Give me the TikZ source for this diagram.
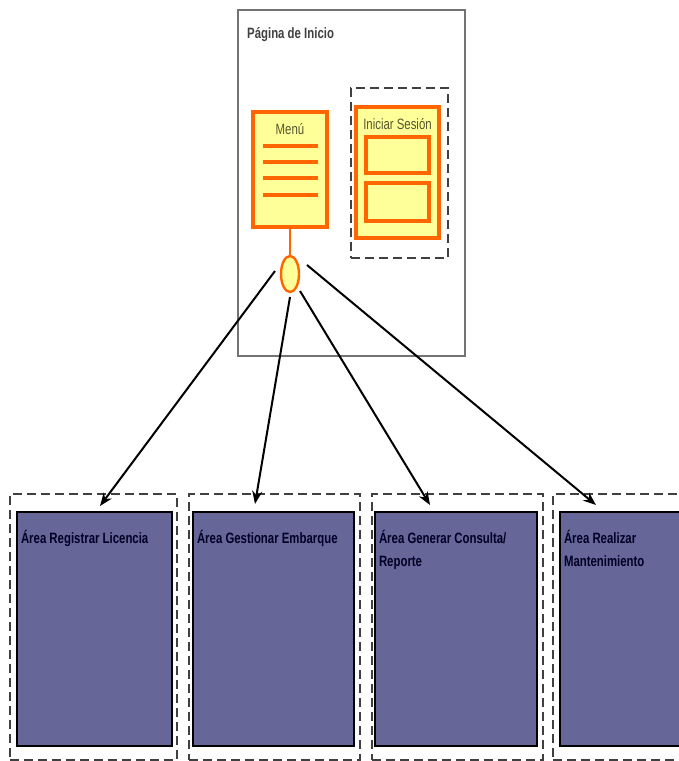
\documentclass[tikz,border=0pt]{standalone}
\usepackage{fontspec}
\setmainfont{Liberation Sans}[FakeStretch=0.76]
\usepackage{tikz}
\usetikzlibrary{shapes.geometric, arrows.meta, calc}

\definecolor{menuorange}{RGB}{255,102,0}
\definecolor{paleyellow}{RGB}{255,255,153}
\definecolor{areablue}{RGB}{102,102,153}
\definecolor{labelolive}{RGB}{85,85,45}

\begin{document}
\begin{tikzpicture}[x=1pt, y=-1pt, font=\fontsize{15}{23}\selectfont,
  pagebox/.style={draw=black!55, line width=1.5pt, inner sep=0pt},
  orangebox/.style={draw=menuorange, fill=paleyellow, line width=3.5pt, inner sep=0pt},
  wrapbox/.style={draw=black!75, line width=2.4pt, dash pattern=on 9pt off 5pt, inner sep=0pt},
  areabox/.style={draw=black, fill=areablue, line width=2.4pt, inner sep=0pt},
  arealabel/.style={anchor=north west, align=left, inner sep=0pt, font=\fontsize{15}{23}\selectfont\bfseries, text=black!85!blue},
  link/.style={-{Stealth[length=13pt, width=10pt]}, line width=2pt}]
  \useasboundingbox (0,0) rectangle (679,761);
  \clip (0,0) rectangle (679,761);

  \node[pagebox, minimum width=227pt, minimum height=346pt] (page) at (351.5,183) {};
  \node[anchor=north west, inner sep=0pt, font=\fontsize{15}{18}\selectfont\bfseries, text=black!75] (title) at (247,27) {Página de Inicio};

  \node[orangebox, minimum width=74pt, minimum height=115pt] (menu) at (290,169.5) {};
  \node[text=labelolive, inner sep=0pt] (menulabel) at (290,129) {Menú};
  \foreach \y in {146,162,178,195}
    \draw[menuorange, line width=3.5pt] (263,\y) -- (318,\y);
  \node[ellipse, draw=menuorange, fill=paleyellow, line width=2.4pt, minimum width=18pt, minimum height=36pt, inner sep=0pt] (hub) at (290,274) {};
  \draw[menuorange, line width=2.4pt] (menu.south) -- (hub.north);

  \node[wrapbox, minimum width=97pt, minimum height=170pt] (loginwrap) at (399.5,173) {};
  \node[orangebox, line width=4pt, minimum width=83pt, minimum height=131pt] (login) at (397.5,172.5) {};
  \node[text=labelolive, inner sep=0pt] (loginlabel) at (397.5,124) {Iniciar Sesión};
  \node[orangebox, line width=4pt, minimum width=63pt, minimum height=36pt] (field1) at (397.5,155) {};
  \node[orangebox, line width=4pt, minimum width=63pt, minimum height=38pt] (field2) at (397.5,202) {};

  \node[wrapbox, minimum width=167pt, minimum height=266pt] (wrap1) at (93.5,627) {};
  \node[wrapbox, minimum width=171pt, minimum height=266pt] (wrap2) at (274.5,627) {};
  \node[wrapbox, minimum width=171pt, minimum height=266pt] (wrap3) at (457.5,627) {};
  \node[wrapbox, minimum width=167pt, minimum height=266pt] (wrap4) at (636.5,627) {};

  \node[areabox, minimum width=155pt, minimum height=234pt] (area1) at (94.5,629) {};
  \node[areabox, minimum width=161pt, minimum height=234pt] (area2) at (273.5,629) {};
  \node[areabox, minimum width=162pt, minimum height=234pt] (area3) at (456,629) {};
  \node[areabox, minimum width=160pt, minimum height=234pt] (area4) at (640,629) {};

  \node[arealabel] (label1) at ($(area1.north west)+(5,19)$) {Área Registrar Licencia};
  \node[arealabel] (label2) at ($(area2.north west)+(5,19)$) {Área Gestionar Embarque};
  \node[arealabel] (label3) at ($(area3.north west)+(5,19)$) {Área Generar Consulta/\\Reporte};
  \node[arealabel] (label4) at ($(area4.north west)+(5,19)$) {Área Realizar\\Mantenimiento};

  \coordinate (s1) at (275,271);
  \coordinate (s2) at (290,297);
  \coordinate (s3) at (300,291);
  \coordinate (s4) at (307,265);
  \coordinate (t1) at (100,506);
  \coordinate (t2) at (255,504);
  \coordinate (t3) at (430,505);
  \coordinate (t4) at (596,505);
  \draw[link] (s1) -- (t1);
  \draw[link] (s2) -- (t2);
  \draw[link] (s3) -- (t3);
  \draw[link] (s4) -- (t4);
\end{tikzpicture}
\end{document}
